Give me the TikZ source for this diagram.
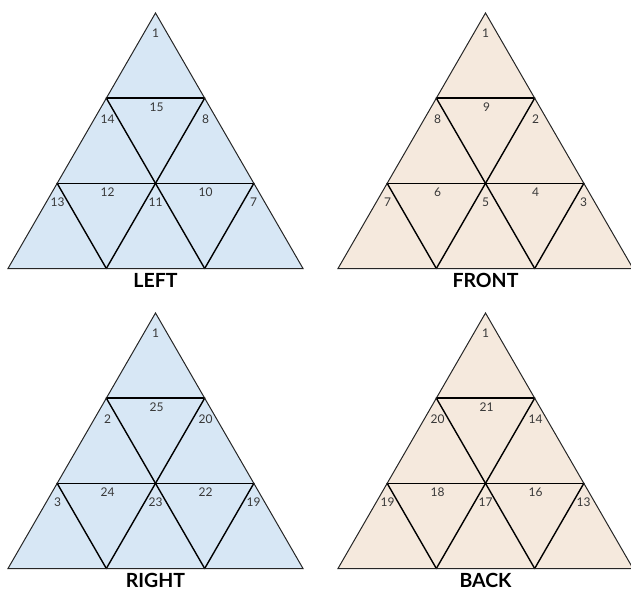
\documentclass[tikz,border=0pt]{standalone}
\usepackage{fontspec}
\setmainfont{Lato}
\definecolor{tblue}{RGB}{215,231,245}
\definecolor{tbeige}{RGB}{245,233,221}
\tikzset{
  outer/.style={draw=black!85, line width=1pt, line join=miter},
  inner/.style={draw=black, line width=1.4pt, line cap=round},
  num/.style={font=\fontsize{12}{14}\selectfont, text=black!78, inner sep=0pt},
  face/.style={font=\bfseries\fontsize{19.5}{22}\selectfont, inner sep=0pt},
}
% #1 apex x, #2 apex y, #3 fill, #4 title, #5 top, #6 mid, #7 r1L, #8 r1R, #9 r2L
\newcommand{\tetraface}[9]{%
  \begin{scope}[shift={(#1,#2)}]
    \fill[#3] (0,0) -- (-147.5,255.5) -- (147.5,255.5) -- cycle;
    \draw[inner] (-49.17,85.17) -- (49.17,85.17);
    \draw[inner] (-98.33,170.33) -- (98.33,170.33);
    \draw[inner] (-49.17,85.17) -- (49.17,255.5);
    \draw[inner] (49.17,85.17) -- (-49.17,255.5);
    \draw[inner] (-98.33,170.33) -- (-49.17,255.5);
    \draw[inner] (98.33,170.33) -- (49.17,255.5);
    \draw[outer] (0,0) -- (-147.5,255.5) -- (147.5,255.5) -- cycle;
    \node[face] at (0,267) {#4};
    \node[num] at (0,20) {#5};
    \node[num] at (1,94) {#6};
    \node[num] at (-48,106) {#7};
    \node[num] at (50,106) {#8};
    \node[num] at (-48,179) {#9};
  \end{scope}%
}
% #1 apex x, #2 apex y, #3 r2R, #4 vL, #5 vM, #6 vR
\newcommand{\tetrarest}[6]{%
  \begin{scope}[shift={(#1,#2)}]
    \node[num] at (50,179) {#3};
    \node[num] at (-98,189) {#4};
    \node[num] at (0,189) {#5};
    \node[num] at (98,189) {#6};
  \end{scope}%
}
\begin{document}
\begin{tikzpicture}[x=1pt,y=-1pt]
  \useasboundingbox (0,0) rectangle (631,592);
  \tetraface{155.5}{13}{tblue}{LEFT}{1}{15}{14}{8}{12}
  \tetrarest{155.5}{13}{10}{13}{11}{7}
  \tetraface{485.5}{13}{tbeige}{FRONT}{1}{9}{8}{2}{6}
  \tetrarest{485.5}{13}{4}{7}{5}{3}
  \tetraface{155.5}{313}{tblue}{RIGHT}{1}{25}{2}{20}{24}
  \tetrarest{155.5}{313}{22}{3}{23}{19}
  \tetraface{485.5}{313}{tbeige}{BACK}{1}{21}{20}{14}{18}
  \tetrarest{485.5}{313}{16}{19}{17}{13}
\end{tikzpicture}
\end{document}
